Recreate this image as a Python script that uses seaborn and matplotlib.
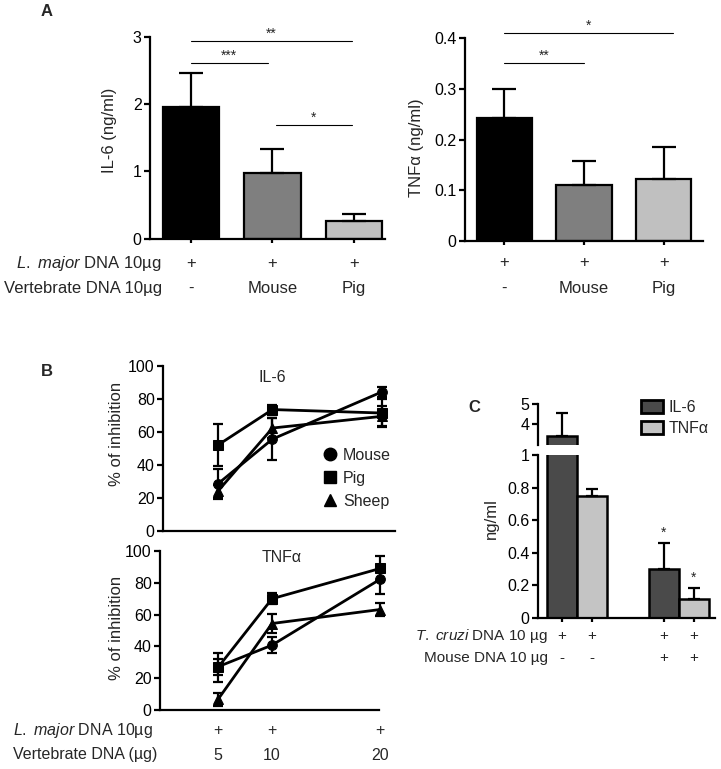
import numpy as np
import pandas as pd
import matplotlib
matplotlib.use('Agg')
import matplotlib.pyplot as plt
import seaborn as sns
from matplotlib import transforms
from matplotlib.patches import Patch
from matplotlib.lines import Line2D

sns.set_theme(style='ticks')
plt.rcParams['font.family'] = ['Liberation Sans', 'DejaVu Sans']
plt.rcParams['mathtext.fontset'] = 'custom'
plt.rcParams['mathtext.rm'] = 'Liberation Sans'
plt.rcParams['mathtext.it'] = 'Liberation Sans:italic'

# ---------------- data ----------------
# Panel A
a_groups = ['none', 'Mouse', 'Pig']
a_row1 = ['+', '+', '+']
a_row2 = ['-', 'Mouse', 'Pig']
a_il6 = [1.95, 0.97, 0.27]
a_il6_err = [0.51, 0.36, 0.10]
a_tnf = [0.242, 0.110, 0.123]
a_tnf_err = [0.058, 0.047, 0.062]
a_colors = ['#000000', '#7f7f7f', '#c0c0c0']

# Panel B
doses = [5, 10, 20]
species = ['Mouse', 'Pig', 'Sheep']
b_markers = ['o', 's', '^']
il6_mouse = [28.5, 55.7, 84.3]
il6_pig = [52.0, 73.6, 71.5]
il6_sheep = [24.0, 62.4, 69.5]
il6_mouse_err = [9.0, 12.7, 3.0]
il6_pig_err = [12.8, 3.0, 8.5]
il6_sheep_err = [4.0, 6.0, 6.0]
tnf_mouse = [27.2, 40.8, 82.2]
tnf_pig = [26.8, 70.0, 89.0]
tnf_sheep = [6.7, 54.4, 63.2]
tnf_mouse_err = [5.0, 5.0, 9.0]
tnf_pig_err = [9.0, 3.5, 8.0]
tnf_sheep_err = [4.0, 6.0, 4.0]
b_row1 = ['+', '+', '+']
b_row2 = ['5', '10', '20']

# Panel C
c_conditions = ['T. cruzi', 'T. cruzi + Mouse']
c_cytokines = ['IL-6', 'TNFα']
c_il6 = [3.40, 0.30]
c_il6_err = [1.15, 0.157]
c_tnf = [0.748, 0.113]
c_tnf_err = [0.042, 0.067]
c_colors = ['#4a4a4a', '#c4c4c4']
c_row1 = ['+', '+', '+', '+']
c_row2 = ['-', '-', '+', '+']
c_stars = ['', '', '*', '*']

# ---------------- figure ----------------
W, H = 721, 769
fig = plt.figure(figsize=(W / 100, H / 100), dpi=100)
fig.patch.set_facecolor('white')

FS_TICK = 11.5
FS_ROW = 12
FS_LAB = 12

def add_ax(l, t, r, b):
    return fig.add_axes([l / W, 1 - b / H, (r - l) / W, (b - t) / H])

def ftext(x, y, s, **kw):
    return fig.text(x / W, 1 - y / H, s, **kw)

SP = 1.6
def style_ax(ax, xticks=True):
    sns.despine(ax=ax)
    for s in ['left', 'bottom']:
        ax.spines[s].set_linewidth(SP)
        ax.spines[s].set_color('black')
    ax.tick_params(axis='y', length=4, width=SP, labelsize=FS_TICK, pad=2, colors='black')
    ax.tick_params(axis='x', length=3 if xticks else 0, width=SP, labelsize=FS_TICK, colors='black')
    ax.set_facecolor('none')
    ax.set_xlabel('')
    ax.set_ylabel('')

def row_text(ax, xs, labels, ypx, size=FS_ROW):
    tr = transforms.blended_transform_factory(ax.transData, fig.transFigure)
    for x, s in zip(xs, labels):
        ax.text(x, 1 - ypx / H, s, transform=tr, ha='center', va='center', fontsize=size)

# ---------- Panel A ----------
def bar_panel(ax, vals, errs, ylim, yticks, yticklabels):
    df = pd.DataFrame({'g': a_groups, 'v': vals})
    sns.barplot(data=df, x='g', y='v', hue='g', palette=a_colors, order=a_groups,
                hue_order=a_groups, legend=False, width=0.69, edgecolor='black',
                linewidth=1.6, errorbar=None, ax=ax)
    xs = np.arange(len(a_groups))
    ax.errorbar(xs, vals, yerr=[np.zeros(len(vals)), errs], fmt='none', ecolor='black',
                elinewidth=1.6, capsize=8.5, capthick=1.6, zorder=1)
    ax.set_ylim(*ylim)
    ax.set_yticks(yticks)
    ax.set_yticklabels(yticklabels)
    ax.set_xticks(xs)
    ax.set_xticklabels([])
    style_ax(ax)
    return xs

axA1 = add_ax(150, 36.7, 385, 238.7)
xs = bar_panel(axA1, a_il6, a_il6_err, (0, 3), [0, 1, 2, 3], ['0', '1', '2', '3'])
axA1.set_xlim(-0.5, 2.38)
row_text(axA1, xs, a_row1, 263)
row_text(axA1, xs, a_row2, 288)

def sig(ax, x0, x1, y, s, dy):
    ax.plot([x0, x1], [y, y], color='black', lw=0.8, clip_on=False)
    ax.text((x0 + x1) / 2, y + dy, s, ha='center', va='bottom', fontsize=10, clip_on=False)

sig(axA1, 0, 1.98, 2.94, '**', 0.0)
sig(axA1, 0, 0.94, 2.61, '***', 0.0)
sig(axA1, 1.04, 1.98, 1.69, '*', 0.0)

axA2 = add_ax(465, 38.3, 703, 241)
xs = bar_panel(axA2, a_tnf, a_tnf_err, (0, 0.4), [0, 0.1, 0.2, 0.3, 0.4],
               ['0', '0.1', '0.2', '0.3', '0.4'])
axA2.set_xlim(-0.49, 2.49)
row_text(axA2, xs, a_row1, 262)
row_text(axA2, xs, a_row2, 288)
sig(axA2, 0, 2.12, 0.41, '*', 0.0)
sig(axA2, 0, 1.0, 0.351, '**', 0.0)

ftext(162, 263, r'$\mathit{L.}$ $\mathit{major}$ DNA 10µg', ha='right', va='center', fontsize=FS_ROW)
ftext(162, 288, 'Vertebrate DNA 10µg', ha='right', va='center', fontsize=FS_ROW)
ftext(110, 130, 'IL-6 (ng/ml)', rotation=90, ha='center', va='center', fontsize=FS_LAB)
ftext(416, 148, 'TNFα (ng/ml)', rotation=90, ha='center', va='center', fontsize=FS_LAB)

# ---------- Panel B ----------
def line_panel(ax, series, errs, title, tx, ty):
    rows = []
    for sp, vals in zip(species, series):
        for d, v in zip(doses, vals):
            rows.append({'dose': d, 'val': v, 'species': sp})
    df = pd.DataFrame(rows)
    sns.lineplot(data=df, x='dose', y='val', style='species', style_order=species,
                 markers=dict(zip(species, b_markers)), dashes=False, color='black',
                 lw=2, markersize=7, markeredgecolor='black', legend=False, ax=ax,
                 clip_on=False)
    for vals, err in zip(series, errs):
        ax.errorbar(doses, vals, yerr=err, fmt='none', ecolor='black', elinewidth=1.6,
                    capsize=3.8, capthick=1.6, clip_on=False)
    ax.set_ylim(0, 100)
    ax.set_yticks([0, 20, 40, 60, 80, 100])
    ax.set_yticklabels(['0', '20', '40', '60', '80', '100'])
    ax.set_xticks([])
    style_ax(ax, xticks=False)
    ax.text(tx, ty, title, transform=ax.transAxes, ha='center', va='center', fontsize=FS_TICK)

axB1 = add_ax(163, 366, 395, 531)
line_panel(axB1, [il6_mouse, il6_pig, il6_sheep],
           [il6_mouse_err, il6_pig_err, il6_sheep_err], 'IL-6', 0.47, 0.93)
axB1.set_xlim(0, 21.2)
handles = [Line2D([], [], marker=m, ls='none', color='black', markersize=9)
           for m in b_markers]
axB1.legend(handles, species, loc='center left', bbox_to_anchor=(0.687, 0.32),
            frameon=False, fontsize=11.5, handlelength=1.0, handletextpad=0.3,
            labelspacing=0.5, borderpad=0, borderaxespad=0)

axB2 = add_ax(160, 551, 379, 710)
line_panel(axB2, [tnf_mouse, tnf_pig, tnf_sheep],
           [tnf_mouse_err, tnf_pig_err, tnf_sheep_err], 'TNFα', 0.557, 0.96)
axB2.set_xlim(-0.37, 19.9)
row_text(axB2, doses, b_row1, 731, 11.5)
row_text(axB2, doses, b_row2, 755, 11.5)
ftext(153, 731, r'$\mathit{L.}$ $\mathit{major}$ DNA 10µg', ha='right', va='center', fontsize=11.5)
ftext(157, 755, 'Vertebrate DNA (µg)', ha='right', va='center', fontsize=11.5)
ftext(116, 434, '% of inhibition', rotation=90, ha='center', va='center', fontsize=FS_LAB)
ftext(116, 628, '% of inhibition', rotation=90, ha='center', va='center', fontsize=FS_LAB)

# ---------- Panel C ----------
c_rows = []
for ci, cond in enumerate(c_conditions):
    c_rows.append({'cond': cond, 'cyt': c_cytokines[0], 'val': c_il6[ci]})
    c_rows.append({'cond': cond, 'cyt': c_cytokines[1], 'val': c_tnf[ci]})
c_df = pd.DataFrame(c_rows)
c_err = []
for ci in range(len(c_conditions)):
    c_err += [c_il6_err[ci], c_tnf_err[ci]]
c_vals = list(c_df['val'])

def c_panel(ax):
    sns.barplot(data=c_df, x='cond', y='val', hue='cyt', order=c_conditions,
                hue_order=c_cytokines, palette=c_colors, width=0.586, edgecolor='black',
                linewidth=1.8, errorbar=None, legend=False, ax=ax)
    bars = sorted([p for p in ax.patches if p.get_height() > 0], key=lambda p: p.get_x())
    cx = [p.get_x() + p.get_width() / 2 for p in bars]
    ax.errorbar(cx, c_vals, yerr=[np.zeros(len(c_vals)), c_err], fmt='none',
                ecolor='black', elinewidth=1.6, capsize=4.5, capthick=1.6, zorder=1)
    ax.set_xlim(-0.378, 1.352)
    return cx

axCt = add_ax(538, 404, 715, 444.6)
c_panel(axCt)
axCt.set_ylim(3, 5)
axCt.set_yticks([4, 5])
axCt.set_yticklabels(['4', '5'])
style_ax(axCt, xticks=False)
axCt.spines['bottom'].set_visible(False)
axCt.set_xticks([])

axCb = add_ax(538, 455, 715, 617.7)
cx = c_panel(axCb)
axCb.set_ylim(0, 1)
axCb.set_yticks([0, 0.2, 0.4, 0.6, 0.8, 1.0])
axCb.set_yticklabels(['0', '0.2', '0.4', '0.6', '0.8', '1'])
axCb.set_xticks(cx)
axCb.set_xticklabels([])
style_ax(axCb)
row_text(axCb, cx, c_row1, 636, 11)
row_text(axCb, cx, c_row2, 658, 11)
for x, v, e, s in zip(cx, c_vals, c_err, c_stars):
    if s and v + e < 1:
        axCb.text(x, v + e + 0.02, s, ha='center', va='bottom', fontsize=10)
ftext(548, 636, r'$\mathit{T.}$ $\mathit{cruzi}$ DNA 10 µg', ha='right', va='center', fontsize=11)
ftext(548, 658, 'Mouse DNA 10 µg', ha='right', va='center', fontsize=11)
ftext(491, 519, 'ng/ml', rotation=90, ha='center', va='center', fontsize=FS_LAB)
c_handles = [Patch(facecolor=c, edgecolor='black', linewidth=2) for c in c_colors]
fig.legend(c_handles, c_cytokines, loc='upper left', bbox_to_anchor=(641 / W, 1 - 400 / H),
           frameon=False, fontsize=11.5, handlelength=1.4, handleheight=0.9,
           handletextpad=0.3, labelspacing=0.35, borderpad=0, borderaxespad=0)

# panel letters
ftext(47, 12, 'A', ha='center', va='center', fontsize=12, fontweight='bold')
ftext(47, 372, 'B', ha='center', va='center', fontsize=12, fontweight='bold')
ftext(474, 408, 'C', ha='center', va='center', fontsize=12, fontweight='bold')

fig.savefig('out.png', dpi=100, facecolor='white')
